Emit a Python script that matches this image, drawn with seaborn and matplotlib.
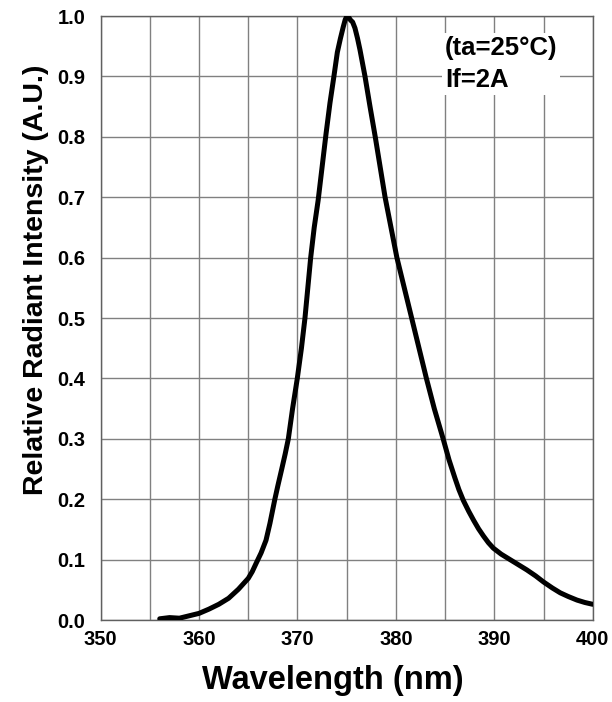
import matplotlib
matplotlib.use("Agg")
import matplotlib.pyplot as plt
import seaborn as sns
import pandas as pd

# Data
wavelength = [356.0, 357.0, 358.0, 359.0, 360.0, 361.0, 362.0, 363.0, 364.0, 365.0,
              365.4, 365.8, 366.3, 366.8, 367.2, 367.7, 368.0, 368.4, 368.75, 369.07,
              369.5, 369.98, 370.4, 370.76, 371.05, 371.34, 371.7, 372.1, 372.5, 372.9,
              373.3, 373.7, 374.05, 374.35, 374.65, 374.85, 375.0, 375.2, 375.4, 375.6,
              375.84, 376.1, 376.35, 376.86, 377.37, 377.9, 378.4, 378.9, 379.5, 380.1,
              380.85, 381.6, 382.35, 383.1, 383.9, 384.8, 385.4, 386.0, 386.4, 386.85,
              387.4, 387.9, 388.4, 388.9, 389.4, 389.9, 390.7, 391.6, 392.4, 393.3,
              394.2, 395.0, 395.9, 396.7, 397.5, 398.4, 399.2, 400.0]
intensity = [0.002, 0.004, 0.003, 0.007, 0.011, 0.018, 0.026, 0.036, 0.051, 0.069,
             0.080, 0.094, 0.111, 0.132, 0.160, 0.200, 0.222, 0.250, 0.275, 0.300,
             0.350, 0.400, 0.450, 0.500, 0.550, 0.600, 0.650, 0.695, 0.750, 0.805,
             0.856, 0.900, 0.940, 0.962, 0.982, 0.994, 0.999, 0.998, 0.993, 0.990,
             0.980, 0.963, 0.944, 0.900, 0.850, 0.800, 0.750, 0.700, 0.650, 0.600,
             0.550, 0.500, 0.450, 0.400, 0.350, 0.300, 0.265, 0.235, 0.216, 0.198,
             0.180, 0.165, 0.151, 0.139, 0.128, 0.119, 0.109, 0.100, 0.092, 0.083,
             0.073, 0.063, 0.053, 0.045, 0.039, 0.033, 0.029, 0.026]

x_ticks = [350, 360, 370, 380, 390, 400]
x_grid = [355, 365, 375, 385, 395]
y_ticks = [0.0, 0.1, 0.2, 0.3, 0.4, 0.5, 0.6, 0.7, 0.8, 0.9, 1.0]
y_ticklabels = ["0.0", "0.1", "0.2", "0.3", "0.4", "0.5", "0.6", "0.7", "0.8", "0.9", "1.0"]
annotation = "(ta=25°C)\nIf=2A"

sns.set_style("white")
plt.rcParams['font.family'] = ['Liberation Sans', 'DejaVu Sans']
plt.rcParams['font.weight'] = 'bold'
for k in ['text.color', 'axes.labelcolor', 'xtick.color', 'ytick.color']:
    plt.rcParams[k] = 'black'

df = pd.DataFrame({"wavelength": wavelength, "intensity": intensity})

fig = plt.figure(figsize=(6.12, 7.02), dpi=100)
ax = fig.add_axes([0.1645, 0.1168, 0.8040, 0.8604])

sns.lineplot(data=df, x="wavelength", y="intensity", color="black",
             linewidth=3.6, ax=ax, sort=False, zorder=3)

ax.set_xlim(350, 400)
ax.set_ylim(0, 1.0)
ax.set_xticks(x_ticks)
ax.set_xticks(x_grid, minor=True)
ax.set_yticks(y_ticks)
ax.set_yticklabels(y_ticklabels)
ax.grid(True, which="both", color="#808080", linewidth=1.0)
ax.tick_params(axis="both", which="both", length=0, labelsize=14.5)
ax.tick_params(axis="y", pad=11)
ax.tick_params(axis="x", pad=7)
for lab in ax.get_xticklabels() + ax.get_yticklabels():
    lab.set_fontweight("bold")

for s in ax.spines.values():
    s.set_color("#606060")
    s.set_linewidth(1.0)

ax.set_xlabel("Wavelength (nm)", fontsize=23.5, fontweight="bold")
ax.xaxis.set_label_coords(0.472, -0.074)
ax.set_ylabel("Relative Radiant Intensity (A.U.)", fontsize=20.5, fontweight="bold")
ax.yaxis.set_label_coords(-0.105, 0.563)

ax.text(385.0, 0.967, annotation, fontsize=18.5, fontweight="bold", ha="left", va="top",
        linespacing=1.42, zorder=4,
        bbox=dict(facecolor="white", edgecolor="none", pad=2))

fig.savefig("out.png", dpi=100)
